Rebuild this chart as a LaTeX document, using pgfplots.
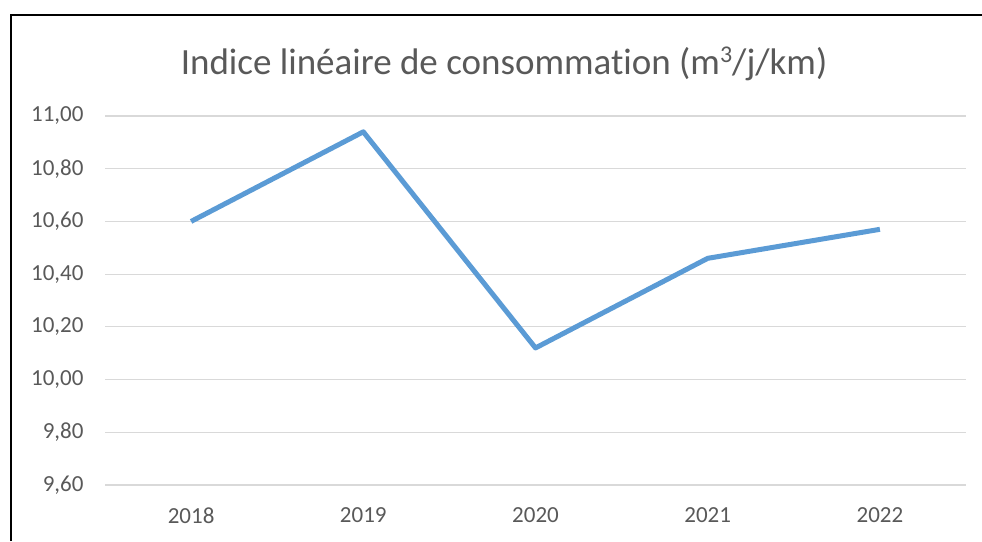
\documentclass[border=0pt]{standalone}
\usepackage{pgfplots}
\pgfplotsset{compat=1.18}
\usepackage{fontspec}
\setmainfont{Carlito}[Ligatures=NoCommon]
\definecolor{txtgray}{HTML}{595959}
\definecolor{gridgray}{HTML}{D9D9D9}
\definecolor{lineblue}{HTML}{5B9BD5}
\begin{document}
\begin{tikzpicture}[x=1pt,y=1pt]
\path[use as bounding box] (0,0) rectangle (982,541);
\draw[line width=2.5pt,black] (11,0) -- (11,526) -- (982,526);
\begin{axis}[
  at={(105pt,56pt)}, anchor=south west,
  scale only axis, width=861pt, height=369pt,
  xmin=-0.5, xmax=4.5, ymin=9.6, ymax=11.0,
  xtick={0,1,2,3,4}, xticklabels={2018,2019,2020,2021,2022},
  ytick={9.6,9.8,10.0,10.2,10.4,10.6,10.8,11.0},
  ymajorgrids, major grid style={gridgray, line width=1.2pt},
  axis line style={draw=none},
  major tick length=0pt,
  tick label style={font=\fontsize{23}{27}\selectfont, text=txtgray},
  yticklabel style={xshift=-18pt},
  xticklabel style={yshift=-19pt},
  /pgf/number format/.cd, fixed, fixed zerofill, precision=2, use comma, assume math mode=true,
]
\addplot[lineblue, line width=5pt, line join=round] coordinates {
(0,10.60) (1,10.94) (2,10.12) (3,10.46) (4,10.57)};
\end{axis}
\node[text=txtgray, font=\fontsize{37}{42}\selectfont] at (504,477) {Indice linéaire de consommation (m\raisebox{12pt}{\fontsize{24}{24}\selectfont 3}/j/km)};
\end{tikzpicture}
\end{document}
